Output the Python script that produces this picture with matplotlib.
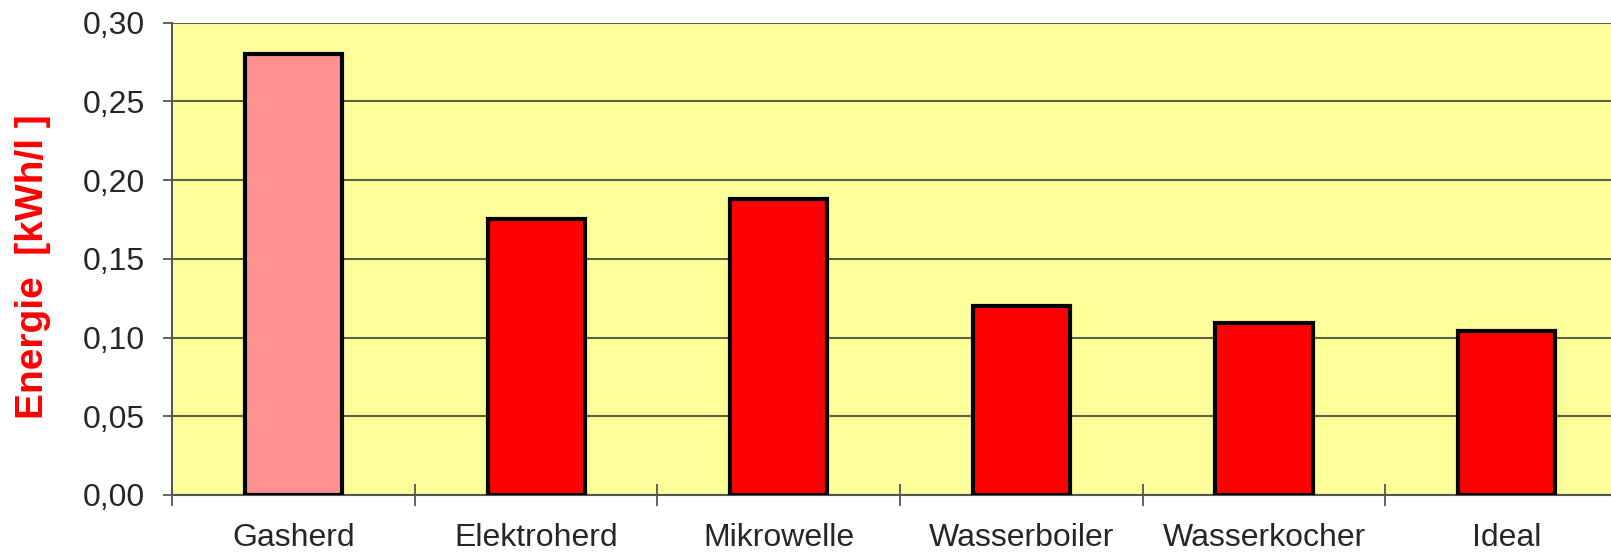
import matplotlib.pyplot as plt
import numpy as np

categories = ["Gasherd", "Elektroherd", "Mikrowelle", "Wasserboiler", "Wasserkocher", "Ideal"]
energy = [0.280, 0.175, 0.188, 0.120, 0.109, 0.104]
bar_colors = ["#FF9090", "#FF0000", "#FF0000", "#FF0000", "#FF0000", "#FF0000"]
y_ticks = [0.00, 0.05, 0.10, 0.15, 0.20, 0.25, 0.30]

plt.rcParams['font.family'] = ['Liberation Sans', 'DejaVu Sans']

fig = plt.figure(figsize=(16.11, 5.52), dpi=100)
ax = fig.add_axes([0.1068, 0.1033, 0.8932, 0.8556])
ax.set_facecolor("#FFFF99")

x = np.arange(len(categories))
ax.bar(x, energy, width=0.4, color=bar_colors, edgecolor="black", linewidth=3, zorder=3)

ax.set_yticks(y_ticks)
ax.set_yticklabels([f"{v:.2f}".replace(".", ",") for v in y_ticks], fontsize=23, color="#262626")
ax.yaxis.grid(True, color="#5f5f48", linewidth=1.5, zorder=1)

# category labels centred on bars, ticks between categories
ax.set_xticks(x)
ax.set_xticklabels(categories, fontsize=23, color="#262626")
ax.tick_params(axis="x", which="major", length=0, pad=20)
ax.set_xticks(np.arange(len(categories) + 1) - 0.5, minor=True)
ax.tick_params(axis="x", which="minor", direction="inout", length=16, width=1.3, color="#555555")
ax.tick_params(axis="y", direction="out", length=6.5, width=1.3, color="#555555", pad=13)

# set limits after ticks so the right side stays cropped
ax.set_ylim(0, 0.30)
ax.set_xlim(-0.5, 5.43)

for side in ["top", "right"]:
    ax.spines[side].set_visible(False)
for side in ["left", "bottom"]:
    ax.spines[side].set_color("#555555")
    ax.spines[side].set_linewidth(1.5)

ax.set_ylabel("Energie  [kWh/l ]", fontsize=28, fontweight="bold", color="#FF0000")
ax.yaxis.set_label_coords(-0.084, 0.484)

fig.savefig("out.png", dpi=100)
